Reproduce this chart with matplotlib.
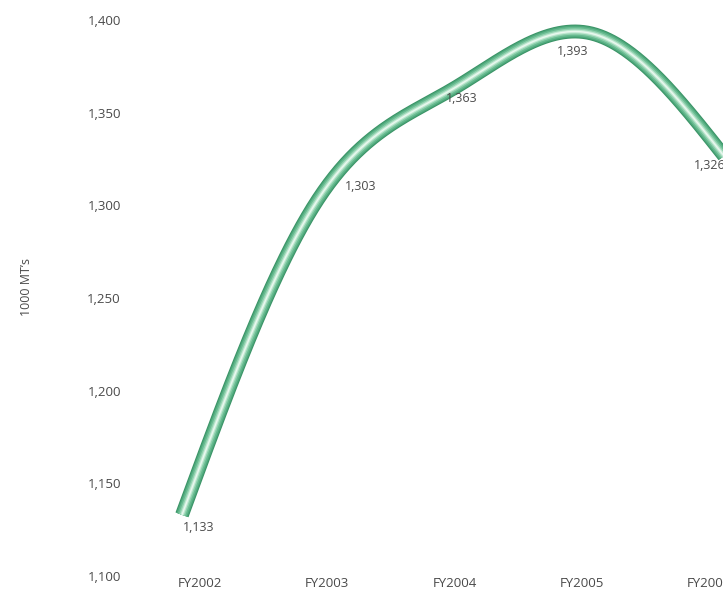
import numpy as np
import matplotlib
matplotlib.use("Agg")
import matplotlib.pyplot as plt

# data
years = ["FY2002", "FY2003", "FY2004", "FY2005", "FY2006"]
values = [1133, 1303, 1363, 1393, 1326]
value_labels = ["1,133", "1,303", "1,363", "1,393", "1,326"]
y_ticks = [1100, 1150, 1200, 1250, 1300, 1350, 1400]

# label placement (pixels, relative to each point)
label_offsets = [(17, -13), (43, 13), (8, -10), (-17, -19), (-15, -8)]
# category labels sit on a slightly tighter grid than the line points
TICK_SHIFT, TICK_STEP = 0.133, 0.937

TEXT = "#4a4a4a"


def natural_spline(x, y, n=400):
    """Natural cubic spline through (x, y), evaluated on a dense grid."""
    x, y = np.asarray(x, float), np.asarray(y, float)
    k = len(x)
    h = np.diff(x)
    A = np.zeros((k, k))
    b = np.zeros(k)
    A[0, 0] = A[-1, -1] = 1.0
    for i in range(1, k - 1):
        A[i, i - 1] = h[i - 1]
        A[i, i] = 2 * (h[i - 1] + h[i])
        A[i, i + 1] = h[i]
        b[i] = 6 * ((y[i + 1] - y[i]) / h[i] - (y[i] - y[i - 1]) / h[i - 1])
    M = np.linalg.solve(A, b)
    xs = np.linspace(x[0], x[-1], n)
    idx = np.clip(np.searchsorted(x, xs) - 1, 0, k - 2)
    t0, t1 = x[idx], x[idx + 1]
    hh = t1 - t0
    ys = (M[idx] * (t1 - xs) ** 3 / (6 * hh) + M[idx + 1] * (xs - t0) ** 3 / (6 * hh)
          + (y[idx] / hh - M[idx] * hh / 6) * (t1 - xs)
          + (y[idx + 1] / hh - M[idx + 1] * hh / 6) * (xs - t0))
    return xs, ys


plt.rcParams["font.family"] = ["Open Sans", "DejaVu Sans"]

W, H = 723, 596
fig = plt.figure(figsize=(W / 100, H / 100), dpi=100)
ax = fig.add_axes([182 / W, 20 / H, (725 - 182) / W, (576 - 20) / H])

x = np.arange(len(values))
xs, ys = natural_spline(x, values)

# tube look: dark rim, green body, pale highlight
layers = [(10.0, "#3a9366"), (8.6, "#4da77a"), (6.8, "#66ba8f"),
          (4.6, "#8fd0ad"), (2.6, "#c2e9d3"), (1.0, "#eaf8ef")]
for lw, col in layers:
    ax.plot(xs, ys, color=col, lw=lw, solid_capstyle="butt", clip_on=False)

for xi, v, lab, off in zip(x, values, value_labels, label_offsets):
    ax.annotate(lab, (xi, v), xytext=off, textcoords="offset pixels",
                ha="center", va="center", fontsize=9, color=TEXT,
                annotation_clip=False)

ax.set_xlim(0, 4)
ax.set_ylim(1100, 1400)
ax.set_yticks(y_ticks)
ax.set_yticklabels([f"{t:,}" for t in y_ticks])
ax.set_xticks(TICK_SHIFT + TICK_STEP * x)
ax.set_xticklabels(years)
ax.tick_params(axis="both", length=0, labelsize=9.5, colors=TEXT)
ax.tick_params(axis="y", pad=44)
ax.tick_params(axis="x", pad=1)
for s in ax.spines.values():
    s.set_visible(False)
ax.patch.set_visible(False)

fig.text(27 / W, 1 - 287 / H, "1000 MT\u2019s", rotation=90, ha="center",
         va="center", fontsize=9, color=TEXT)

fig.savefig("out.png", dpi=100)
